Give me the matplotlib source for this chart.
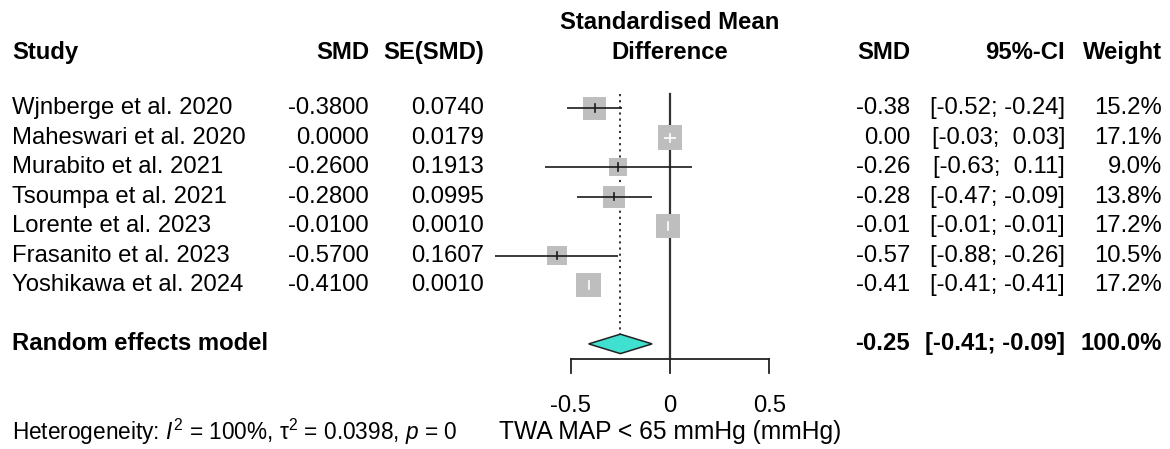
import matplotlib
matplotlib.use("Agg")
import matplotlib.pyplot as plt
from matplotlib.patches import Polygon
import numpy as np

# ---------------- data ----------------
studies = ["Wjnberge et al. 2020", "Maheswari et al. 2020", "Murabito et al. 2021",
           "Tsoumpa et al. 2021", "Lorente et al. 2023", "Frasanito et al. 2023",
           "Yoshikawa et al. 2024"]
smd = [-0.38, 0.00, -0.26, -0.28, -0.01, -0.57, -0.41]
se_smd = [0.0740, 0.0179, 0.1913, 0.0995, 0.0010, 0.1607, 0.0010]
ci_low = [-0.52, -0.03, -0.63, -0.47, -0.01, -0.88, -0.41]
ci_high = [-0.24, 0.03, 0.11, -0.09, -0.01, -0.26, -0.41]
weights = [15.2, 17.1, 9.0, 13.8, 17.2, 10.5, 17.2]
pooled_smd = -0.25
pooled_low = -0.41
pooled_high = -0.09
pooled_label = "Random effects model"
x_ticks = [-0.5, 0, 0.5]
x_ticklabels = ["-0.5", "0", "0.5"]
x_label = "TWA MAP < 65 mmHg (mmHg)"
het_text = r"Heterogeneity: $\mathit{I}^2$ = 100%, τ$^2$ = 0.0398, $\mathit{p}$ = 0"

# ---------------- style ----------------
plt.rcParams['font.family'] = ['Liberation Sans', 'DejaVu Sans']
plt.rcParams['mathtext.fontset'] = 'custom'
plt.rcParams['mathtext.rm'] = 'Liberation Sans'
plt.rcParams['mathtext.it'] = 'Liberation Sans:italic'
plt.rcParams['mathtext.bf'] = 'Liberation Sans:bold'

W, H, DPI = 1170, 449, 100
FS = 17.2
X0_PX, X_SCALE = 670.0, 198.5      # pixel of x=0, pixels per unit
Y0_PX, Y_SCALE = 108.3, 29.45      # pixel of row 0, pixels per row

fig = plt.figure(figsize=(W / DPI, H / DPI), dpi=DPI)
ax = fig.add_axes([0, 0, 1, 1])
ax.set_xlim((0 - X0_PX) / X_SCALE, (W - X0_PX) / X_SCALE)
ax.set_ylim((H - Y0_PX) / Y_SCALE, (0 - Y0_PX) / Y_SCALE)
ax.axis('off')


def px(xpix):
    return (xpix - X0_PX) / X_SCALE


n = len(studies)
rows = np.arange(n)
pooled_row = n + 1
axis_row = pooled_row + 0.51
tick_row = pooled_row + 1.0
ticklab_row = pooled_row + 2.1
bottom_row = pooled_row + 3.0
hdr_row = -1.9

# ---------------- headers ----------------
bold = dict(fontsize=FS, fontweight='bold', va='center')
ax.text(px(12), hdr_row, "Study", ha='left', **bold)
ax.text(px(369), hdr_row, "SMD", ha='right', **bold)
ax.text(px(484), hdr_row, "SE(SMD)", ha='right', **bold)
ax.text(0, hdr_row - 1.0, "Standardised Mean", ha='center', **bold)
ax.text(0, hdr_row + 0.02, "Difference", ha='center', **bold)
ax.text(px(910), hdr_row, "SMD", ha='right', **bold)
ax.text(px(1065), hdr_row, "95%-CI", ha='right', **bold)
ax.text(px(1162), hdr_row, "Weight", ha='right', **bold)

# ---------------- study rows ----------------
norm = dict(fontsize=FS, va='center')
side_ref = 24.7  # px side for the max weight
wmax = max(weights)
for r, name, m, s, lo, hi, w in zip(rows, studies, smd, se_smd, ci_low, ci_high, weights):
    ax.text(px(12), r, name, ha='left', **norm)
    ax.text(px(369), r, f"{m:.4f}", ha='right', **norm)
    ax.text(px(484), r, f"{s:.4f}", ha='right', **norm)
    ax.text(px(910), r, f"{m:.2f}", ha='right', **norm)
    ax.text(px(1065), r, f"[{lo:.2f}; {hi:5.2f}]", ha='right', **norm)
    ax.text(px(1162), r, f"{w:.1f}%", ha='right', **norm)

    side_px = side_ref * np.sqrt(w / wmax)
    side_pt = side_px * 72 / DPI
    ax.scatter([m], [r], marker='s', s=side_pt ** 2, color='#BEBEBE',
               edgecolors='none', zorder=3)
    half_units = side_px / 2 / X_SCALE
    inside = (lo > m - half_units) and (hi < m + half_units)
    col = 'white' if inside else '#1a1a1a'
    if hi > lo:
        ax.plot([lo, hi], [r, r], color=col, lw=1.2, zorder=4, solid_capstyle='butt')
    ax.plot([m, m], [r - 0.13, r + 0.13], color=col, lw=1.2, zorder=4)

# ---------------- reference lines ----------------
ax.plot([0, 0], [-0.5, axis_row], color='#333333', lw=1.6, zorder=2)
diamond_h = 0.33
ax.plot([pooled_smd, pooled_smd], [-0.5, pooled_row - diamond_h], color='#222222',
        lw=1.3, linestyle=(0, (1.2, 2.2)), zorder=2)

# ---------------- pooled diamond ----------------
ax.text(px(12), pooled_row, pooled_label, ha='left', **bold)
diamond = Polygon([[pooled_low, pooled_row], [pooled_smd, pooled_row - diamond_h],
                   [pooled_high, pooled_row], [pooled_smd, pooled_row + diamond_h]],
                  closed=True, facecolor='#40E0D0', edgecolor='#222222', lw=1.1, zorder=5)
ax.add_patch(diamond)
ax.text(px(910), pooled_row, f"{pooled_smd:.2f}", ha='right', **bold)
ax.text(px(1065), pooled_row, f"[{pooled_low:.2f}; {pooled_high:5.2f}]", ha='right', **bold)
ax.text(px(1162), pooled_row, "100.0%", ha='right', **bold)

# ---------------- x axis ----------------
ax.plot([x_ticks[0], x_ticks[-1]], [axis_row, axis_row], color='#222222', lw=1.3)
for t, lab in zip(x_ticks, x_ticklabels):
    ax.plot([t, t], [axis_row, tick_row], color='#222222', lw=1.3)
    ax.text(t, ticklab_row, lab, ha='center', **norm)
ax.text(0, bottom_row, x_label, ha='center', fontsize=FS * 1.03, va='center')
ax.text(px(12), bottom_row, het_text, ha='left', fontsize=FS * 0.945, va='center')

fig.savefig("out.png", dpi=DPI)
